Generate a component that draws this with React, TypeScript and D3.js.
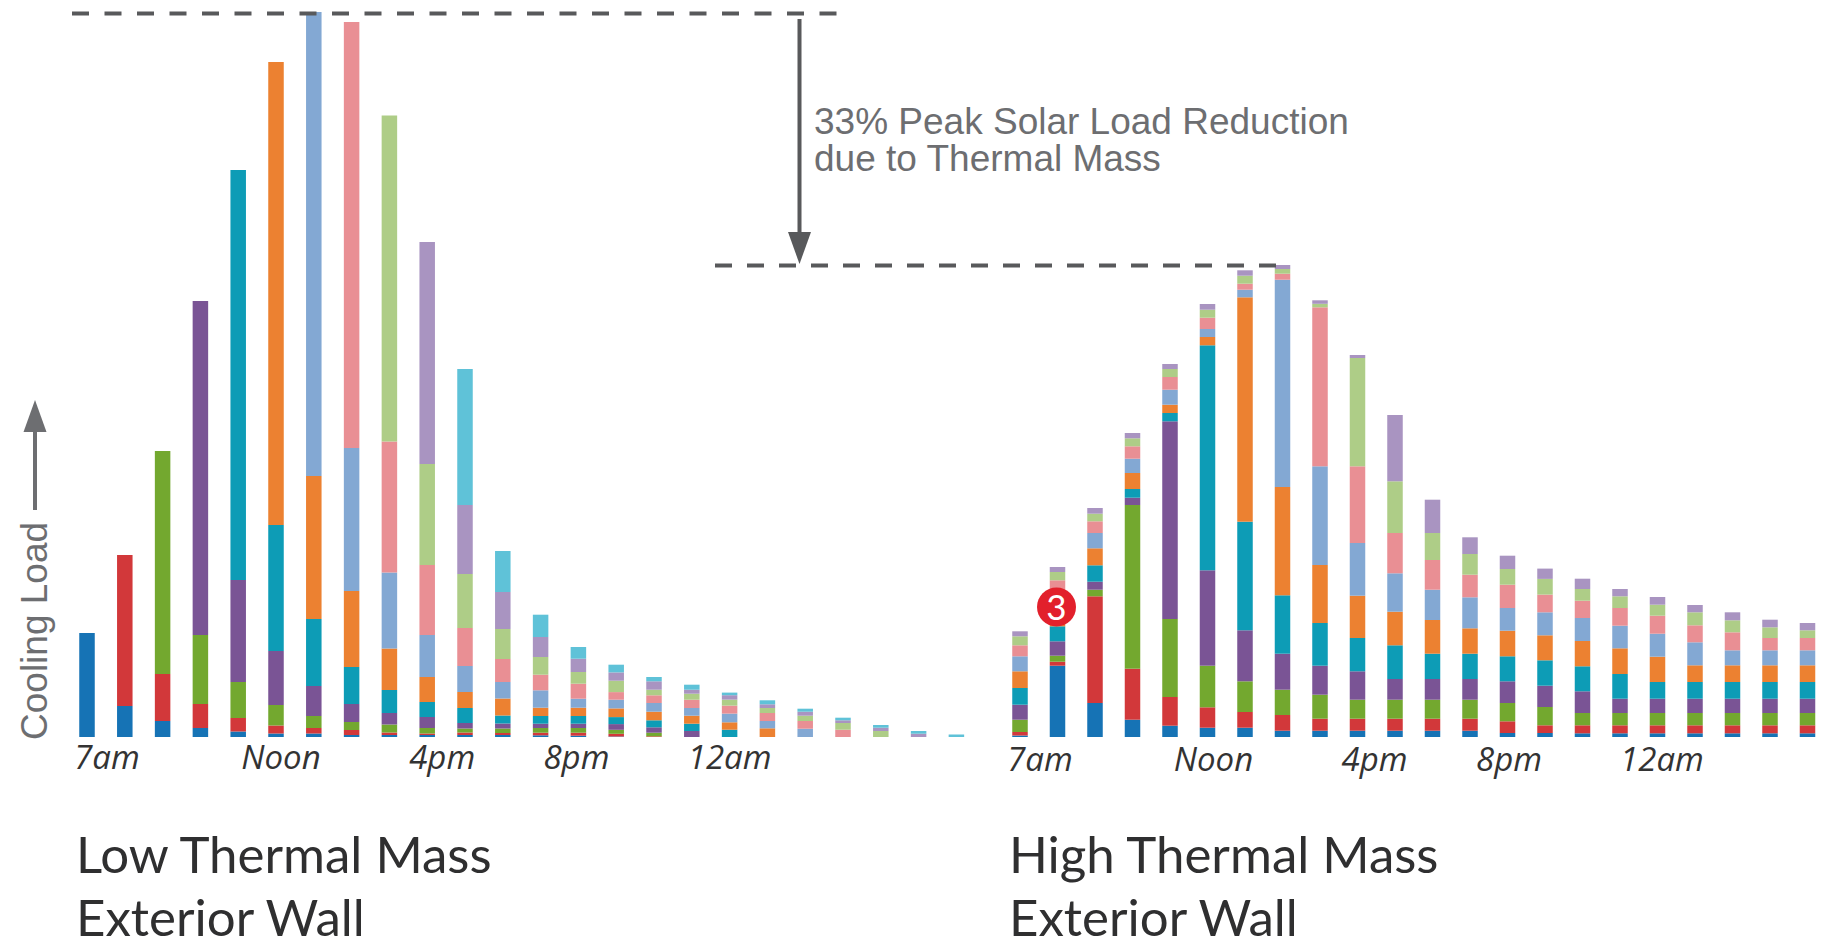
import React from "react";
import * as d3 from "d3";

const lowBlue = [104,31,16,9,5.5,3.5,3.5,2,2,2,2,2,1.7,1.3,0.5,0,0,0,0,0,0,0,0,0];
const lowRed = [0,151,47,24,13.5,8,5.5,5,2.5,1.5,2.5,2,2.6,3,2.7,0.7,0,0,0,0,0,0,0,0];
const lowGreen = [0,0,223,69,36,20.5,12,8,8,5.5,4,4.5,4.7,4.7,4,3.6,0,0,0,0,0,0,0,0];
const lowPurple = [0,0,0,334,102,54,30,18,11.5,11,5.5,5,4.3,4.3,5.7,5.4,6,0,0,0,0,0,0,0];
const lowTeal = [0,0,0,0,410,126,67,37,23,15,15,8,7.7,7.7,7,7,7.3,7.3,0,0,0,0,0,0];
const lowOrange = [0,0,0,0,0,463,143,76,41.5,25,16,17,8.3,8.3,8.7,8.6,8,7.4,8.7,0,0,0,0,0];
const lowLtBlue = [0,0,0,0,0,0,464,143,76,42,26,16.5,17.4,9,8.7,8.7,7.7,8.7,7.3,8.3,0,0,0,0];
const lowPink = [0,0,0,0,0,0,0,426,131,70,38,23,15.6,15,7.6,7.7,8.3,8,8,7.7,7.3,0,0,0];
const lowLtGreen = [0,0,0,0,0,0,0,0,326,101,54,30,17.7,11.7,11.4,5.6,6,6,5,5.3,6.7,6,0,0];
const lowLtPurple = [0,0,0,0,0,0,0,0,0,222,69,37,20,13.3,8.3,8.4,4,4.4,3.7,4,2.7,3.3,3.3,0];
const lowCyan = [0,0,0,0,0,0,0,0,0,0,136,41,22.3,11.7,7.7,4.3,5,2.6,4,3,2.6,2.7,2.7,2.5];

const highBlue = [1.5,71.3,34,17.3,11.3,9.3,9.3,6.3,6.3,6.3,6.3,6.3,6.3,4,4,3.7,3.7,3.7,3.7,3.7,3.7,3.7];
const highRed = [3.5,4,106.7,51,28.7,20.4,15.7,15.7,12,12,12,12,12,11.7,7.7,8,8,8,8,8,8,8];
const highGreen = [12.3,6,6.6,163.7,78,41.6,30.7,25.3,24,19,19,19,19,18.3,18.3,12.3,12.3,12.3,12.3,12.3,12.3,12.3];
const highPurple = [15,14.4,8,7.3,197.7,95.4,51,36,29,28.4,20.7,20.7,20.7,21.7,21.3,21.7,14.3,14.3,14.3,14.3,14.3,14.3];
const highTeal = [16.7,15,16.4,8.7,8.3,225,108.6,58.4,42.7,33.3,33.7,25.3,25.3,25,25.4,25,24.7,16.7,16.7,16.7,16.7,16.7];
const highOrange = [16.7,15,17,16,8.3,8.3,224.4,108.3,58,42.3,33.6,33.7,25.4,25.6,25,25.3,25.7,25.3,16.7,16.7,16.7,16.7];
const highLtBlue = [15,15,15.3,14.3,15,8,7.6,207.3,98.7,52.7,38.4,30.3,31,22.7,23,23,22.6,23,23,15,15,15];
const highPink = [11,16,11.7,12.4,12.7,11.3,6,6,159,76.7,40.3,29.7,22.6,23.3,17.7,17.3,17.7,18,17,18,12.3,12.3];
const highLtGreen = [9,8.3,7.6,8,8,8,8,4.7,3.5,108.3,51.7,27,20.7,15.7,15.7,11.7,11.7,11,13,12,10.7,7.7];
const highLtPurple = [5,5,5.7,5.3,5,5.7,5.4,4,3.5,3,66.3,33.3,16.7,13.3,10.3,10.3,7.3,7.7,7.3,8,7.6,7.3];

const seriesColors = ["#1673b5","#d2383a","#73a82f","#7a5495","#0d9cb6","#ec8131","#83a8d3","#e98f94","#aecd87","#a994c1","#5fc2d8"];
const lowSeries = [lowBlue,lowRed,lowGreen,lowPurple,lowTeal,lowOrange,lowLtBlue,lowPink,lowLtGreen,lowLtPurple,lowCyan];
const highSeries = [highBlue,highRed,highGreen,highPurple,highTeal,highOrange,highLtBlue,highPink,highLtGreen,highLtPurple];

const tickLabels = ["7am","Noon","4pm","8pm","12am"];
const tickSlots = [0,5,9,13,17];
const lowTitle = ["Low Thermal Mass","Exterior Wall"];
const highTitle = ["High Thermal Mass","Exterior Wall"];
const noteLines = ["33% Peak Solar Load Reduction","due to Thermal Mass"];

const BASE = 737;
const y = d3.scaleLinear().domain([0, 725]).range([BASE, 12]);
const BAR_W = 15.5;

function Stack({ series, x0, step }: { series: number[][]; x0: number; step: number }) {
  const n = series[0].length;
  const keys = series.map((_, i) => String(i));
  const rows = d3.range(n).map((i) => Object.fromEntries(series.map((s, k) => [String(k), s[i]])));
  const layers = d3.stack<any>().keys(keys)(rows);
  const x = d3.scaleLinear().domain([0, n - 1]).range([x0, x0 + step * (n - 1)]);
  return (
    <g>
      {layers.map((layer, k) => (
        <g key={k} fill={seriesColors[k]}>
          {layer.map((d, i) =>
            d[1] - d[0] > 0 ? (
              <rect key={i} x={x(i) - BAR_W / 2} width={BAR_W} y={y(d[1])} height={y(d[0]) - y(d[1])} />
            ) : null
          )}
        </g>
      ))}
    </g>
  );
}

function Ticks({ x0, step, baseline, nudges }: { x0: number; step: number; baseline: number; nudges: number[] }) {
  return (
    <g fontFamily="'Open Sans', sans-serif" fontStyle="italic" fontSize={33} fill="#333">
      {tickLabels.map((t, i) => (
        <text key={t} x={x0 + step * tickSlots[i] + nudges[i]} y={baseline} textAnchor="middle">{t}</text>
      ))}
    </g>
  );
}

function Title({ lines, x }: { lines: string[]; x: number }) {
  return (
    <g fontFamily="Lato, sans-serif" fontWeight={400} fontSize={51} fill="#2f2f30">
      <text x={x} y={873}>{lines[0]}</text>
      <text x={x} y={936}>{lines[1]}</text>
    </g>
  );
}

export default function App() {
  const gray = "#58595b";
  return (
    <svg width={1835} height={943} style={{ position: "absolute", left: 0, top: 0, background: "#fff" }}>
      <Stack series={lowSeries} x0={87} step={37.8} />
      <Stack series={highSeries} x0={1020} step={37.5} />

      <line x1={72} x2={842} y1={13.5} y2={13.5} stroke={gray} strokeWidth={4} strokeDasharray="17 15.5" />
      <line x1={715} x2={1288} y1={265.5} y2={265.5} stroke={gray} strokeWidth={4} strokeDasharray="17 15" />
      <line x1={799.5} x2={799.5} y1={19} y2={235} stroke={gray} strokeWidth={4} />
      <path d={d3.line()([[788, 232], [811, 232], [799.5, 264]]) + "Z"} fill={gray} />
      <g fontFamily="'Liberation Sans', Arial, sans-serif" fontSize={37} fill="#6d6e71">
        <text x={814} y={134}>{noteLines[0]}</text>
        <text x={814} y={171}>{noteLines[1]}</text>
      </g>

      <Ticks x0={87} step={37.8} baseline={769} nudges={[20, 5, 15, -2, 0]} />
      <Ticks x0={1020} step={37.5} baseline={771} nudges={[20, 6, 17, 1.5, 4.5]} />
      <Title lines={lowTitle} x={76} />
      <Title lines={highTitle} x={1009} />

      <line x1={35} x2={35} y1={510} y2={425} stroke="#6d6e71" strokeWidth={4} />
      <path d={d3.line()([[23.5, 432], [46.5, 432], [35, 400]]) + "Z"} fill="#6d6e71" />
      <text transform="translate(47,740) rotate(-90)" fontFamily="'Liberation Sans', Arial, sans-serif" fontSize={37} fill="#6d6e71">Cooling Load</text>

      <circle cx={1056.5} cy={607} r={19.5} fill="#e2202c" />
      <text x={1056.5} y={619.5} textAnchor="middle" fontFamily="Lato, sans-serif" fontSize={35} fill="#fff">3</text>
    </svg>
  );
}
